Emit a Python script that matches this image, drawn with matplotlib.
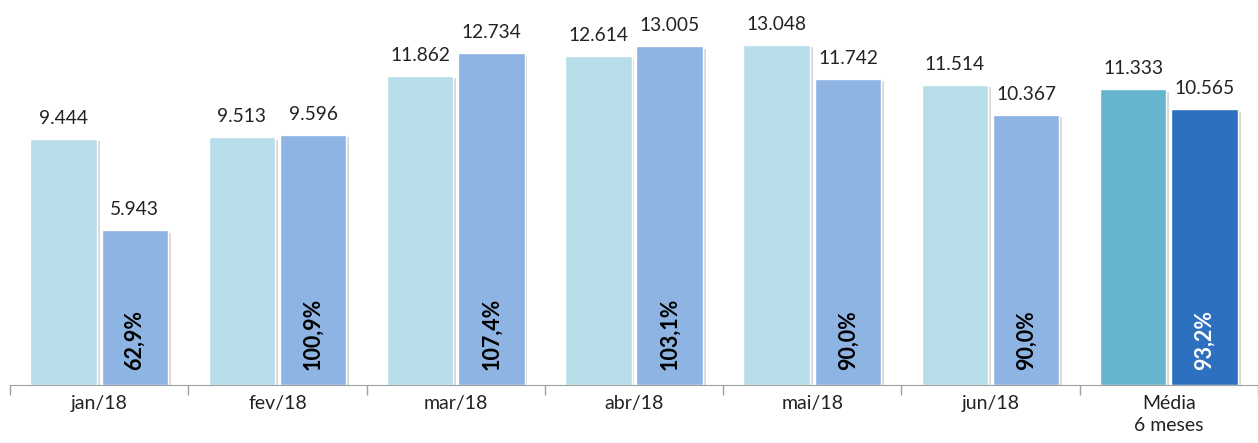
import matplotlib.pyplot as plt
import matplotlib.patheffects as pe
import numpy as np

categories = ['jan/18', 'fev/18', 'mar/18', 'abr/18', 'mai/18', 'jun/18', 'Média\n6 meses']
meta = [9444, 9513, 11862, 12614, 13048, 11514, 11333]
realizado = [5943, 9596, 12734, 13005, 11742, 10367, 10565]
percentual = [62.9, 100.9, 107.4, 103.1, 90.0, 90.0, 93.2]

light_colors = ['#B7DDE8'] * 6 + ['#65B5CF']
dark_colors = ['#8EB4E3'] * 6 + ['#2E70C0']
pct_colors = ['black'] * 6 + ['white']

plt.rcParams['font.family'] = ['Lato', 'DejaVu Sans']

fig = plt.figure(figsize=(12.58, 4.43), dpi=100)
ax = fig.add_axes([10 / 1258, 58 / 443, 1248 / 1258, 385 / 443])

x = np.arange(len(categories))
w = 0.373
shadow = [pe.SimplePatchShadow(offset=(2, -2), shadow_rgbFace='#808080', alpha=0.3), pe.Normal()]

b1 = ax.bar(x - 0.2, meta, w, color=light_colors, edgecolor='white', linewidth=1)
b2 = ax.bar(x + 0.2, realizado, w, color=dark_colors, edgecolor='white', linewidth=1)
for b in list(b1) + list(b2):
    b.set_path_effects(shadow)


def fmt(v):
    return f'{v:,}'.replace(',', '.')


for xi, v in zip(x, meta):
    ax.annotate(fmt(v), (xi - 0.2, v), xytext=(0, 12), textcoords='offset pixels',
                ha='center', va='bottom', fontsize=13.8, color='#222222')
for xi, v in zip(x, realizado):
    ax.annotate(fmt(v), (xi + 0.2, v), xytext=(0, 12), textcoords='offset pixels',
                ha='center', va='bottom', fontsize=13.8, color='#222222')
for xi, p, c in zip(x, percentual, pct_colors):
    ax.text(xi + 0.2, 580, f'{p:.1f}%'.replace('.', ','), rotation=90, ha='center',
            va='bottom', fontsize=15.5, fontweight='bold', color=c)

ax.set_xlim(-0.5, -0.5 + 1248 / 179.6)
ax.set_ylim(0, 14760)

ax.set_xticks(x)
ax.set_xticklabels(categories, fontsize=14, color='#222222', linespacing=1.35)
ax.tick_params(axis='x', which='major', length=0, pad=7)
ax.set_xticks(np.arange(len(categories) + 1) - 0.5, minor=True)
ax.tick_params(axis='x', which='minor', length=7, color='#A0A0A0', width=1)
ax.set_yticks([])

for s in ['top', 'right', 'left']:
    ax.spines[s].set_visible(False)
ax.spines['bottom'].set_color('#A0A0A0')

fig.savefig('out.png', dpi=100)
